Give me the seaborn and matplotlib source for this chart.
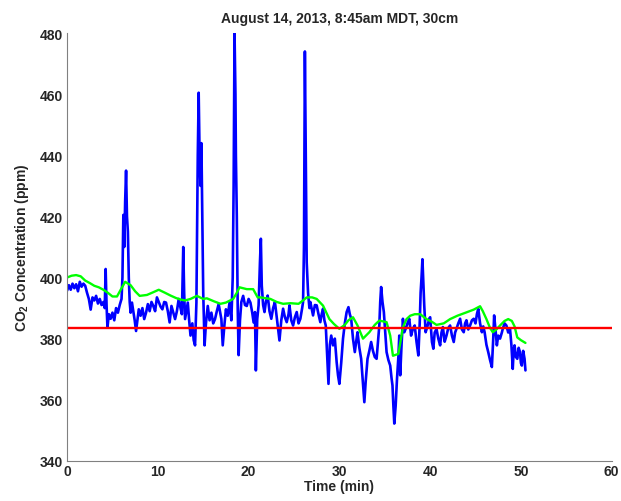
import numpy as np
import pandas as pd
import matplotlib
matplotlib.use("Agg")
import matplotlib.pyplot as plt
import seaborn as sns

# ---------------- data ----------------
blue_t = [0.0, 0.2, 0.4, 0.6, 0.8, 1.0, 1.2, 1.4, 1.6, 1.8, 2.0, 2.2, 2.4, 2.6, 2.8, 3.0, 3.2, 3.4, 3.6, 3.8,
          4.0, 4.15, 4.25, 4.35, 4.45, 4.6, 4.8, 5.0, 5.2, 5.4, 5.6, 5.8, 6.0, 6.1, 6.2, 6.3, 6.4, 6.5, 6.6, 6.7,
          6.8, 6.9, 7.0, 7.15, 7.3, 7.45, 7.6, 7.75, 7.9, 8.1, 8.3, 8.5, 8.7, 8.9, 9.1, 9.3, 9.5, 9.7, 9.9, 10.1,
          10.3, 10.5, 10.7, 10.9, 11.1, 11.3, 11.5, 11.7, 11.9, 12.1, 12.3, 12.5, 12.65, 12.8, 12.9, 13.0, 13.15, 13.3, 13.45, 13.6,
          13.8, 13.95, 14.1, 14.25, 14.4, 14.5, 14.6, 14.7, 14.8, 14.9, 15.0, 15.15, 15.3, 15.5, 15.7, 15.9, 16.1, 16.3, 16.5, 16.7,
          16.9, 17.0, 17.15, 17.35, 17.5, 17.7, 17.9, 18.1, 18.25, 18.35, 18.45, 18.55, 18.6, 18.7, 18.8, 18.9, 19.05, 19.2, 19.4, 19.6,
          19.8, 20.0, 20.2, 20.4, 20.55, 20.7, 20.8, 20.95, 21.1, 21.25, 21.35, 21.45, 21.6, 21.75, 21.9, 22.1, 22.3, 22.5, 22.7, 22.9,
          23.1, 23.25, 23.4, 23.6, 23.8, 24.0, 24.2, 24.4, 24.5, 24.7, 24.9, 25.1, 25.3, 25.5, 25.7, 25.9, 26.0, 26.1, 26.2, 26.3,
          26.4, 26.55, 26.7, 26.8, 27.0, 27.1, 27.3, 27.5, 27.7, 27.9, 28.05, 28.2, 28.35, 28.5, 28.65, 28.8, 28.95, 29.1, 29.3, 29.5,
          29.7, 29.85, 30.0, 30.2, 30.4, 30.6, 30.8, 31.0, 31.15, 31.3, 31.5, 31.7, 31.85, 32.0, 32.2, 32.4, 32.6, 32.75, 32.9, 33.1,
          33.3, 33.5, 33.7, 33.9, 34.1, 34.25, 34.4, 34.5, 34.6, 34.75, 34.9, 35.05, 35.2, 35.4, 35.6, 35.75, 35.85, 35.95, 36.05, 36.2,
          36.35, 36.5, 36.6, 36.7, 36.85, 37.0, 37.15, 37.3, 37.5, 37.7, 37.9, 38.1, 38.3, 38.5, 38.7, 38.85, 38.95, 39.05, 39.15, 39.25,
          39.35, 39.5, 39.7, 39.9, 40.0, 40.2, 40.35, 40.5, 40.7, 40.9, 41.1, 41.25, 41.4, 41.6, 41.8, 42.0, 42.2, 42.4, 42.6, 42.75,
          42.9, 43.1, 43.3, 43.5, 43.7, 43.85, 44.0, 44.2, 44.4, 44.6, 44.8, 45.0, 45.15, 45.3, 45.5, 45.7, 45.85, 46.0, 46.2, 46.4,
          46.6, 46.8, 46.95, 47.05, 47.2, 47.35, 47.5, 47.7, 47.9, 48.0, 48.2, 48.4, 48.6, 48.8, 48.95, 49.1, 49.2, 49.3, 49.45, 49.6,
          49.75, 49.9, 50.0, 50.1, 50.25, 50.4, 50.5]
blue_v = [395.7, 397.5, 396.0, 398.0, 396.5, 397.8, 395.5, 398.6, 397.0, 398.0, 397.3, 395.0, 393.0, 389.5, 393.5, 392.5, 394.0, 391.5, 393.0, 391.0,
          392.0, 390.0, 402.8, 391.0, 383.6, 388.0, 386.5, 388.5, 386.0, 390.0, 388.5, 391.0, 393.0, 400.0, 420.5, 410.0, 425.0, 435.0, 420.0, 415.0,
          400.0, 392.0, 388.5, 391.8, 389.0, 386.0, 382.5, 386.0, 389.6, 387.5, 390.0, 386.4, 388.5, 391.3, 389.0, 392.0, 390.7, 389.0, 393.5, 392.0,
          390.5, 389.6, 392.0, 391.8, 389.0, 385.3, 390.7, 388.5, 386.4, 389.0, 393.0, 390.0, 388.0, 410.0, 395.0, 386.4, 389.0, 391.8, 386.0, 381.0,
          385.0, 379.5, 377.8, 391.8, 440.0, 460.5, 440.0, 430.0, 444.0, 420.0, 395.0, 377.8, 385.0, 390.7, 386.0, 388.5, 385.0, 386.4, 389.0, 391.3,
          388.0, 386.4, 377.8, 385.0, 389.6, 387.5, 391.8, 386.0, 400.0, 430.0, 480.0, 460.0, 440.0, 420.0, 390.0, 374.6, 386.0, 392.0, 394.0, 391.0,
          390.7, 393.0, 391.8, 388.5, 385.3, 388.7, 369.6, 386.4, 390.9, 405.0, 412.7, 397.4, 391.0, 388.7, 392.0, 394.1, 389.0, 386.5, 390.0, 392.0,
          387.0, 383.0, 379.4, 386.0, 389.8, 387.0, 385.4, 388.0, 390.9, 386.0, 384.3, 387.0, 388.7, 385.0, 386.5, 390.0, 392.0, 410.0, 474.0, 440.0,
          405.0, 395.0, 390.0, 392.0, 389.0, 387.6, 391.0, 390.9, 388.0, 385.4, 388.0, 389.8, 386.0, 384.3, 375.0, 365.2, 378.0, 381.0, 377.8, 380.0,
          372.3, 368.0, 365.2, 372.0, 380.0, 385.0, 388.7, 390.3, 388.0, 386.5, 380.0, 375.6, 379.0, 382.1, 377.0, 373.4, 365.0, 359.2, 366.0, 373.4,
          376.0, 378.9, 376.0, 374.0, 373.4, 379.0, 384.3, 392.0, 396.9, 392.0, 388.7, 382.0, 375.6, 373.0, 371.2, 367.0, 364.7, 358.0, 352.2, 358.0,
          366.9, 374.0, 381.0, 368.0, 378.0, 386.5, 382.1, 383.2, 385.0, 386.5, 381.0, 383.2, 384.3, 378.9, 374.5, 385.0, 395.0, 400.0, 406.0, 398.0,
          390.9, 382.1, 384.0, 386.5, 387.0, 378.9, 376.7, 382.0, 383.2, 380.0, 377.8, 382.0, 383.8, 379.0, 381.0, 383.5, 384.3, 381.0, 378.9, 382.0,
          383.2, 385.0, 386.5, 383.0, 382.1, 385.0, 386.0, 383.0, 384.3, 386.0, 386.5, 385.0, 388.0, 389.8, 385.0, 382.1, 384.0, 382.1, 378.0, 375.6,
          373.0, 370.7, 380.0, 387.6, 383.0, 377.8, 381.0, 380.0, 382.0, 383.2, 385.0, 384.3, 382.0, 383.2, 378.0, 370.1, 376.0, 377.8, 374.0, 373.4,
          377.0, 375.6, 372.0, 371.2, 376.0, 373.4, 369.6]

green_t = [0, 0.5, 1, 1.5, 2, 2.5, 3, 3.5, 4, 4.5, 5, 5.5, 6, 6.4, 7, 7.5, 8, 8.8, 9.5, 10.1,
           10.8, 11.4, 12, 12.5, 13, 13.6, 14.3, 15, 15.4, 16.2, 16.9, 17.5, 18.3, 18.7, 19.0, 19.8, 20.5, 21.0, 21.3, 22.4,
           23.1, 23.8, 24.6, 25.5, 26.0, 26.4, 27.0, 27.5, 28.2, 28.9, 29.4, 30.0, 30.6, 31.0, 31.5, 32.0, 32.6, 33.3, 33.9, 34.4,
           35.2, 35.6, 35.9, 36.5, 37.0, 37.4, 37.8, 38.3, 38.9, 39.6, 40.2, 40.7, 41.5, 42.2, 43.0, 44.0, 44.8, 45.5, 45.8, 46.2,
           46.6, 46.9, 47.3, 47.7, 48.2, 48.6, 49.0, 49.3, 49.6, 50.0, 50.5]
green_v = [400.0, 400.6, 400.8, 400.4, 399.0, 398.2, 397.3, 396.8, 396.0, 395.0, 393.8, 393.8, 396.5, 398.6, 397.5, 395.5, 394.0, 394.3, 395.2, 396.0,
           395.0, 394.1, 393.3, 392.8, 392.5, 393.0, 394.0, 393.0, 393.2, 392.2, 391.4, 391.8, 393.0, 395.0, 396.8, 396.2, 396.2, 393.5, 393.5, 393.0,
           392.0, 391.4, 391.6, 391.4, 392.5, 393.5, 393.5, 393.0, 390.8, 386.4, 384.8, 383.2, 384.5, 386.0, 387.0, 384.3, 380.0, 382.1, 384.5, 385.9,
           385.4, 381.0, 374.4, 375.0, 383.7, 386.4, 387.5, 388.0, 388.0, 386.4, 385.5, 384.5, 385.0, 386.4, 387.5, 388.6, 389.5, 390.6, 389.0, 386.4,
           383.5, 382.1, 383.0, 384.3, 385.8, 386.4, 385.8, 384.0, 380.4, 379.5, 378.6]

baseline = 383.6
x_ticks = [0, 10, 20, 30, 40, 50, 60]
y_ticks = [340, 360, 380, 400, 420, 440, 460, 480]
title = "August 14, 2013, 8:45am MDT, 30cm"
x_label = "Time (min)"
y_label = r"CO$_{\mathregular{2}}$ Concentration (ppm)"

# ---------------- plot ----------------
sns.set_theme(style="white")
plt.rcParams["font.family"] = ["Liberation Sans", "DejaVu Sans"]
plt.rcParams["mathtext.fontset"] = "custom"
plt.rcParams["mathtext.rm"] = "Liberation Sans:bold"
plt.rcParams["mathtext.default"] = "regular"

fig = plt.figure(figsize=(6.21, 5.02), dpi=100)
ax = fig.add_axes([0.108, 0.080, 0.877, 0.852])

df_blue = pd.DataFrame({"t": blue_t, "v": blue_v})
df_green = pd.DataFrame({"t": green_t, "v": green_v})

sns.lineplot(data=df_blue, x="t", y="v", ax=ax, color="#0000FF", linewidth=1.9, estimator=None, sort=False)
sns.lineplot(data=df_green, x="t", y="v", ax=ax, color="#00FF00", linewidth=1.7, estimator=None, sort=False)
ax.axhline(baseline, color="#FF0000", linewidth=1.7)

ax.set_xlim(0, 60)
ax.set_ylim(340, 480)
ax.set_xticks(x_ticks)
ax.set_yticks(y_ticks)
ax.set_xticklabels([str(v) for v in x_ticks], fontsize=10, fontweight="bold")
ax.set_yticklabels([str(v) for v in y_ticks], fontsize=10, fontweight="bold")
ax.tick_params(direction="in", length=4, width=0.8, color="#808080", pad=3)
ax.tick_params(axis="x", pad=2)

for s in ["top", "right"]:
    ax.spines[s].set_visible(False)
for s in ["left", "bottom"]:
    ax.spines[s].set_color("#808080")
    ax.spines[s].set_linewidth(0.8)

ax.set_title(title, fontsize=10, fontweight="bold", pad=8)
ax.set_xlabel(x_label, fontsize=10, fontweight="bold", labelpad=1)
ax.set_ylabel(y_label, fontsize=10, fontweight="bold", labelpad=6)

fig.savefig("out.png", dpi=100)
